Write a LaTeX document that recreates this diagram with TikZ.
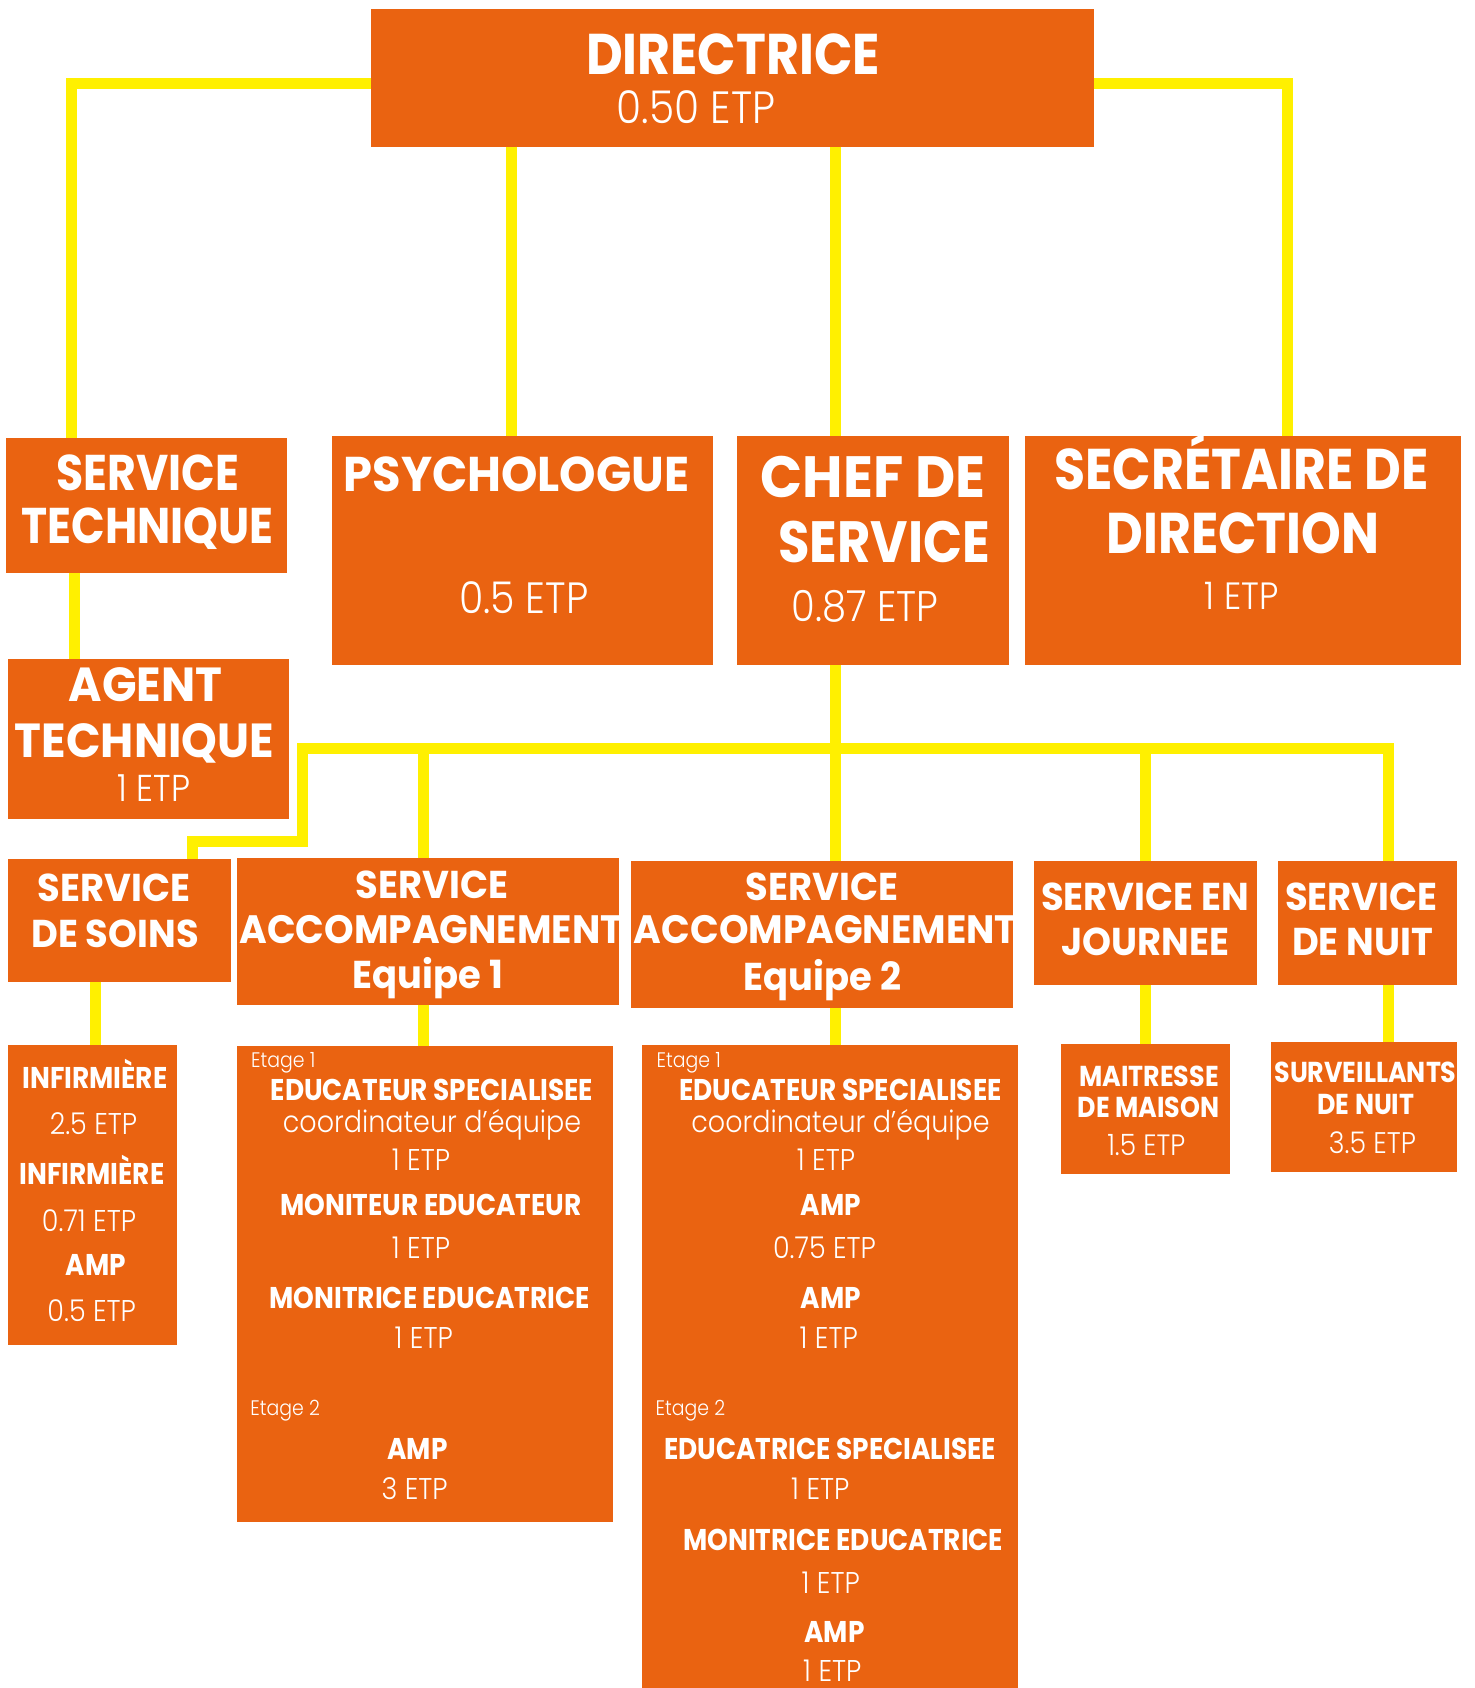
\documentclass[tikz,border=0pt]{standalone}
\usepackage{fontspec}
\setmainfont{Poppins}
\newfontfamily\boldf{Poppins}[FakeStretch=0.88]
\newfontfamily\wboldf{Poppins}[FakeStretch=0.95]
\newfontfamily\lightf{Poppins Light}[FakeStretch=0.9]
\usetikzlibrary{fit}
\definecolor{boxorange}{RGB}{234,99,17}
\definecolor{linkyellow}{RGB}{255,240,0}
\tikzset{
	box/.style={fill=boxorange, draw=none, inner sep=0pt, outer sep=0pt},
	link/.style={draw=linkyellow, line width=5.5pt},
	hd/.style={text=white, inner sep=0pt, anchor=base, font=\boldf\bfseries\fontsize{#1}{#1}\selectfont},
	hw/.style={text=white, inner sep=0pt, anchor=base, font=\wboldf\bfseries\fontsize{#1}{#1}\selectfont},
	lt/.style={text=white, inner sep=0pt, anchor=base, font=\lightf\fontsize{#1}{#1}\selectfont},
	tag/.style={text=white, inner sep=0pt, anchor=base west, font=\lightf\fontsize{10.5}{10.5}\selectfont},
}

\begin{document}
\begin{tikzpicture}[x=0.5pt, y=-0.5pt]
		\useasboundingbox (0,0) rectangle (1475,1688);
		\node[box, fit={(371,9) (1094,146.5)}] (dir) {};
		\node[box, fit={(6,438) (287,573)}] (stech) {};
		\node[box, fit={(332,436) (713,665)}] (psy) {};
		\node[box, fit={(737,436) (1009,665)}] (chef) {};
		\node[box, fit={(1025,436) (1461,665)}] (secr) {};
		\node[box, fit={(8,659) (289,819)}] (agent) {};
		\node[box, fit={(8,859) (231,982)}] (soins) {};
		\node[box, fit={(237,858) (619,1005)}] (acc1) {};
		\node[box, fit={(631,861) (1013,1008)}] (acc2) {};
		\node[box, fit={(1034,861) (1257,985)}] (jour) {};
		\node[box, fit={(1278,861) (1457,985)}] (nuit) {};
		\node[box, fit={(8,1045) (177,1345)}] (infi) {};
		\node[box, fit={(237,1046) (613,1522)}] (acc1d) {};
		\node[box, fit={(642,1045) (1018,1688)}] (acc2d) {};
		\node[box, fit={(1061,1044) (1230,1174)}] (maison) {};
		\node[box, fit={(1271,1042) (1457,1172)}] (surv) {};

		\draw[link] (dir.west |- 0,83) -| (71.5,0 |- stech.north);
		\draw[link] (dir.east |- 0,83) -| (1287.5,0 |- secr.north);
		\draw[link] (dir.south -| 511.5,0) -- (psy.north -| 511.5,0);
		\draw[link] (dir.south -| 835.7,0) -- (chef.north -| 835.7,0);
		\draw[link] (stech.south -| 74,0) -- (agent.north -| 74,0);
		\coordinate (bus) at (835.7,748);
		\draw[link] (chef.south -| bus) -- (acc2.north -| bus);
		\draw[link] (soins.north -| 192,0) |- (302,841) -- (302,748) -| (nuit.north -| 1388.3,0);
		\draw[link] (423,748) -- (acc1.north -| 423,0);
		\draw[link] (jour.north |- bus) -- (jour.north);
		\draw[link] (soins.south -| 95.3,0) -- (infi.north -| 95.3,0);
		\draw[link] (acc1.south -| 423,0) -- (acc1d.north -| 423,0);
		\draw[link] (acc2.south -| bus) -- (acc2d.north -| bus);
		\draw[link] (jour.south) -- (maison.north -| jour.south);
		\draw[link] (nuit.south -| 1388.3,0) -- (surv.north -| 1388.3,0);

		\node[hd=28.7] (dirA) at (733,74.3) {DIRECTRICE};
		\node[lt=22.6] (dirB) at (696,123) {0.50 ETP};
		\node[hd=25.1] (stechA) at (148,490) {SERVICE};
		\node[hd=25.1] (stechB) at (147.5,543) {TECHNIQUE};
		\node[hw=24.4] (psyA) at (516.5,491) {PSYCHOLOGUE};
		\node[lt=21.9] (psyB) at (523.7,613) {0.5 ETP};
		\node[hw=29.1] (chefA) at (873,497) {CHEF DE};
		\node[hd=29.1] (chefB) at (884,562) {SERVICE};
		\node[lt=21.4] (chefC) at (865,621.5) {0.87 ETP};
		\node[hd=28.7] (secrA) at (1241.5,489) {SECRÉTAIRE DE};
		\node[hd=28.7] (secrB) at (1243,553) {DIRECTION};
		\node[lt=19] (secrC) at (1241.7,609) {1 ETP};
		\node[hw=23.9] (agentA) at (145.5,701) {AGENT};
		\node[hw=23.9] (agentB) at (144.5,757) {TECHNIQUE};
		\node[lt=18.7] (agentC) at (154,801) {1 ETP};

		\node[hw=19.4] (soinsA) at (114,901.6) {SERVICE};
		\node[hw=19.4] (soinsB) at (115,947) {DE SOINS};
		\node[hw=19.4] (acc1A) at (432,898.7) {SERVICE};
		\node[hw=19.8] (acc1B) at (431,943) {ACCOMPAGNEMENT};
		\node[hw=19.4] (acc1C) at (428,988.5) {Equipe 1};
		\node[hw=19.4] (acc2A) at (822,900.5) {SERVICE};
		\node[hw=19.8] (acc2B) at (825.5,943.6) {ACCOMPAGNEMENT};
		\node[hw=19.4] (acc2C) at (822.5,990) {Equipe 2};
		\node[hw=19.4] (jourA) at (1145,910.6) {SERVICE EN};
		\node[hw=19.4] (jourB) at (1145,955.5) {JOURNEE};
		\node[hw=19.4] (nuitA) at (1361.3,910.6) {SERVICE};
		\node[hw=19.4] (nuitB) at (1362.5,955.5) {DE NUIT};

		\node[hd=15] (infiA) at (95,1088) {INFIRMIÈRE};
		\node[lt=15] (infiB) at (93.5,1134) {2.5 ETP};
		\node[hd=15] (infiC) at (92,1184.2) {INFIRMIÈRE};
		\node[lt=15] (infiD) at (89,1231) {0.71 ETP};
		\node[hd=15] (infiE) at (95.7,1275) {AMP};
		\node[lt=15] (infiF) at (91.7,1321.8) {0.5 ETP};

		\node[tag] (acc1dA) at (250.7,1067) {Etage 1};
		\node[hd=15] (acc1dB) at (432,1100.5) {EDUCATEUR SPECIALISEE};
		\node[lt=15] (acc1dC) at (432,1132) {coordinateur d’équipe};
		\node[lt=15] (acc1dD) at (421,1170) {1 ETP};
		\node[hd=15] (acc1dE) at (431,1215) {MONITEUR EDUCATEUR};
		\node[lt=15] (acc1dF) at (421,1258) {1 ETP};
		\node[hd=15] (acc1dG) at (429.7,1308.8) {MONITRICE EDUCATRICE};
		\node[lt=15] (acc1dH) at (423.7,1348.3) {1 ETP};
		\node[tag] (acc1dI) at (250,1415) {Etage 2};
		\node[hd=15] (acc1dJ) at (417.5,1459.6) {AMP};
		\node[lt=15] (acc1dK) at (414.7,1499) {3 ETP};

		\node[tag] (acc2dA) at (656.3,1067) {Etage 1};
		\node[hd=15] (acc2dB) at (840.5,1100.5) {EDUCATEUR SPECIALISEE};
		\node[lt=15] (acc2dC) at (840.5,1132) {coordinateur d’équipe};
		\node[lt=15] (acc2dD) at (826,1170) {1 ETP};
		\node[hd=15] (acc2dE) at (830.8,1215) {AMP};
		\node[lt=15] (acc2dF) at (824.5,1258) {0.75 ETP};
		\node[hd=15] (acc2dG) at (830.8,1308.8) {AMP};
		\node[lt=15] (acc2dH) at (828.7,1348.3) {1 ETP};
		\node[tag] (acc2dI) at (655.3,1415) {Etage 2};
		\node[hd=15] (acc2dJ) at (830,1459.6) {EDUCATRICE SPECIALISEE};
		\node[lt=15] (acc2dK) at (820.3,1499) {1 ETP};
		\node[hd=15] (acc2dL) at (843.3,1550.5) {MONITRICE EDUCATRICE};
		\node[lt=15] (acc2dM) at (830.7,1593.6) {1 ETP};
		\node[hd=15] (acc2dN) at (834.5,1642) {AMP};
		\node[lt=15] (acc2dO) at (832.3,1681.5) {1 ETP};

		\node[hd=14.4] (maisonA) at (1149,1086.5) {MAITRESSE};
		\node[hd=14.4] (maisonB) at (1148.5,1117.8) {DE MAISON};
		\node[lt=14.7] (maisonC) at (1146.3,1155.5) {1.5 ETP};
		\node[hd=14.4] (survA) at (1365.5,1082) {SURVEILLANTS};
		\node[hd=14.4] (survB) at (1366,1114) {DE NUIT};
		\node[lt=14.9] (survC) at (1372.5,1153.7) {3.5 ETP};
	\end{tikzpicture}
\end{document}
